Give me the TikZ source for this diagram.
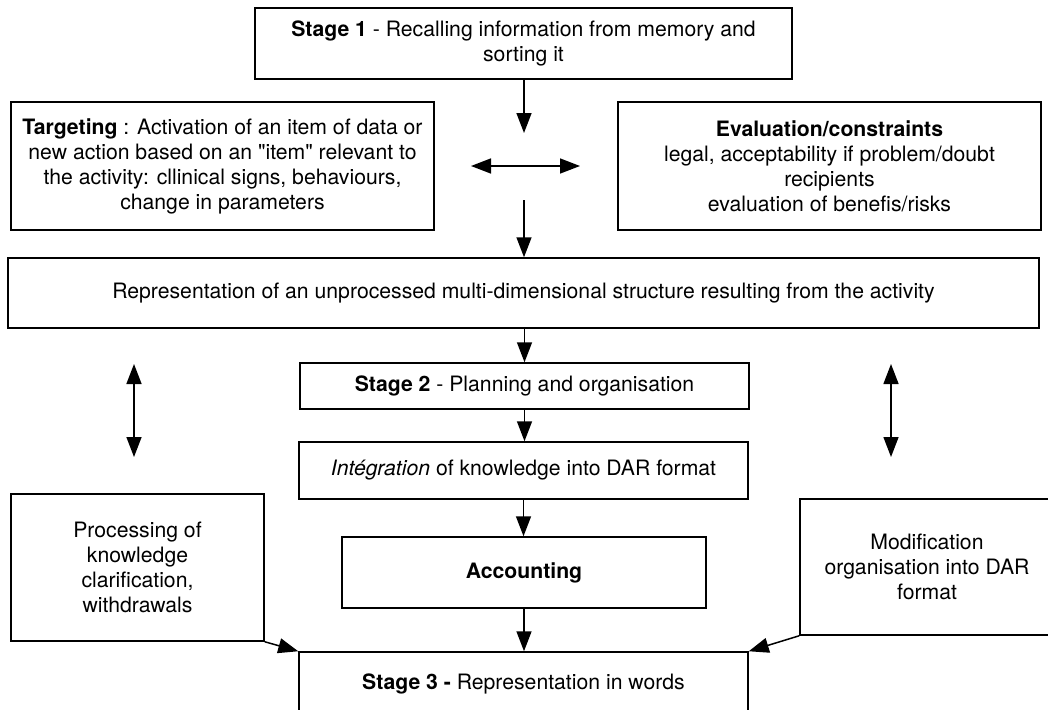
\documentclass[tikz,border=0pt]{standalone}
\usepackage{fontspec}
\setmainfont{TeX Gyre Heros}
\usetikzlibrary{arrows.meta}
\begin{document}
\begin{tikzpicture}[x=1pt,y=-1pt,
  box/.style={draw, line width=1.5pt, align=center, inner sep=0pt, font=\fontsize{21.2}{25}\selectfont},
  arr/.style={line width=1.5pt, -{Triangle[length=20pt,width=15pt]}},
  darr/.style={line width=1.5pt, {Triangle[length=20pt,width=15pt]}-{Triangle[length=20pt,width=15pt]}}]
\path[use as bounding box, clip] (0,0) rectangle (1048,709);
\fill[white] (0,0) rectangle (1048,709);
% boxes
\node[box, minimum width=537pt, minimum height=71pt] (s1) at (523.5,43.5)
  {\textbf{Stage 1} - Recalling information from memory and\\ sorting it};
\node[box, minimum width=423pt, minimum height=128pt] (tgt) at (222.5,166)
  {\textbf{Targeting} : Activation of an item of data or\\new action based on an \textquotedbl item\textquotedbl{} relevant to\\the activity: cllinical signs, behaviours,\\change in parameters};
\node[box, minimum width=423pt, minimum height=128pt] (ev) at (829.5,166)
  {\textbf{Evaluation/constraints}\\legal, acceptability if problem/doubt\\recipients\\evaluation of benefis/risks};
\node[box, minimum width=1031pt, minimum height=70pt] (rep) at (523.5,293)
  {Representation of an unprocessed multi-dimensional structure resulting from the activity};
\node[box, minimum width=449pt, minimum height=46pt] (s2) at (524.5,386)
  {\textbf{Stage 2} - Planning and organisation};
\node[box, minimum width=449pt, minimum height=57pt] (ig) at (523.5,470.5)
  {\textit{Intégration} of knowledge into DAR format};
\node[box, minimum width=364pt, minimum height=71pt] (acc) at (524,572.5)
  {\textbf{Accounting}};
\node[box, minimum width=449pt, minimum height=64pt] (s3) at (523.5,684)
  {\textbf{Stage 3 -} Representation in words};
\node[box, minimum width=253pt, minimum height=147pt] (proc) at (137.5,567.5)
  {Processing of\\knowledge\\clarification,\\withdrawals};
\node[box, minimum width=254pt, minimum height=136pt] (mod) at (927,567)
  {Modification\\organisation into DAR\\format};
% free ends
\coordinate (a1) at (524,133);
\coordinate (a2) at (524,200);
\coordinate (h1) at (471,166);
\coordinate (h2) at (580,166);
\coordinate (l1) at (134,364);
\coordinate (l2) at (134,457);
\coordinate (r1) at (891,364);
\coordinate (r2) at (891,457);
% connectors
\draw[arr] (s1.south -| a1) -- (a1);
\draw[darr] (h1) -- (h2);
\draw[arr] (a2) -- (a2 |- rep.north);
\draw[arr] (rep.south -| s2.north) -- (s2.north);
\draw[arr] (s2.south) -- (s2.south |- ig.north);
\draw[arr] (ig.south) -- (ig.south |- acc.north);
\draw[arr] (acc.south) -- (acc.south |- s3.north);
\draw[darr] (l1) -- (l2);
\draw[darr] (r1) -- (r2);
\draw[arr] (proc.south east) -- (s3.north west);
\draw[arr] (mod.south west) -- (s3.north east);
\end{tikzpicture}
\end{document}
